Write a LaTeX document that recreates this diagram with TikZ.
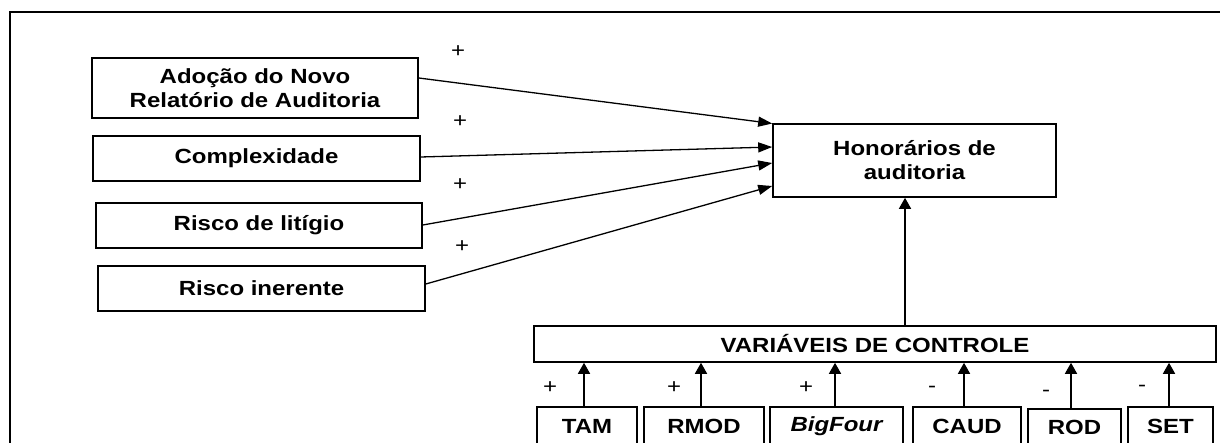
\documentclass[tikz,border=0pt]{standalone}
\usepackage{fontspec}
\setmainfont{Liberation Sans}[FakeStretch=1.17]
\usetikzlibrary{arrows.meta}
\begin{document}
\begin{tikzpicture}[x=1pt,y=-1pt,
  box/.style={draw, line width=1.6pt, inner sep=0pt, align=center,
    font=\bfseries\fontsize{20.5}{24}\selectfont},
  link/.style={line width=1.3pt, -{Triangle[length=14pt,width=10pt]}},
  up/.style={line width=1.6pt, -{Triangle[length=11pt,width=12pt]}},
  sign/.style={inner sep=0pt, font=\fontsize{20.5}{24}\selectfont}]
\useasboundingbox (0,0) rectangle (1220,443);
\clip (0,0) rectangle (1220,443);

% outer frame (left and top edges)
\draw[line width=2.2pt] (10,460) -- (10,12) -- (1240,12);

% explanatory variables
\node[box, minimum width=326pt, minimum height=60pt] (adocao) at (255,88) {Adoção do Novo\\Relatório de Auditoria};
\node[box, minimum width=327pt, minimum height=45pt] (complex) at (256.5,158.5) {Complexidade};
\node[box, minimum width=326pt, minimum height=45pt] (litigio) at (259,225.5) {Risco de litígio};
\node[box, minimum width=327pt, minimum height=45pt] (inerente) at (261.5,288.5) {Risco inerente};

% dependent variable
\node[box, minimum width=283pt, minimum height=73pt] (hon) at (914.5,160.5) {Honorários de\\auditoria};

% control block
\node[box, minimum width=682pt, minimum height=36pt] (ctrl) at (875,344) {VARIÁVEIS DE CONTROLE};

\node[box, minimum width=100pt, minimum height=38pt] (tam) at (587,426) {TAM};
\node[box, minimum width=120pt, minimum height=38pt] (rmod) at (704,426) {RMOD};
\node[box, minimum width=133pt, minimum height=38pt] (big) at (836.5,426) {\itshape BigFour};
\node[box, minimum width=108pt, minimum height=38pt] (caud) at (967,426) {CAUD};
\node[box, minimum width=93pt, minimum height=36pt] (rod) at (1074.5,427) {ROD};
\node[box, minimum width=85pt, minimum height=38pt] (set) at (1170.5,426) {SET};

% effects on audit fees
\draw[link] ([yshift=10pt]adocao.east) -- ([yshift=37pt]hon.west);
\draw[link] ([yshift=1.5pt]complex.east) -- ([yshift=13.5pt]hon.west);
\draw[link] ([yshift=0.5pt]litigio.east) -- ([yshift=-2.5pt]hon.west);
\draw[link] ([yshift=4.5pt]inerente.east) -- ([yshift=-25.5pt]hon.west);

\draw[up] ([xshift=-9.5pt]hon.south |- ctrl.north) -- ([xshift=-9.5pt]hon.south);

\foreach \v/\dx in {tam/-3, rmod/-3, big/-1.5, caud/-3, rod/-3.5, set/-1.5}
  \draw[up] ([xshift=\dx pt]\v.north) -- ([xshift=\dx pt]\v.north |- ctrl.south);

% signs of the expected effects
\node[sign] (p1) at (458,52) {+};
\node[sign] (p2) at (460,122) {+};
\node[sign] (p3) at (460,185) {+};
\node[sign] (p4) at (462,247) {+};
\node[sign] (p5) at (550,388) {+};
\node[sign] (p6) at (674,388) {+};
\node[sign] (p7) at (806,388) {+};
\node[sign] (m1) at (932,389) {-};
\node[sign] (m2) at (1046,393) {-};
\node[sign] (m3) at (1142,388) {-};
\end{tikzpicture}
\end{document}
